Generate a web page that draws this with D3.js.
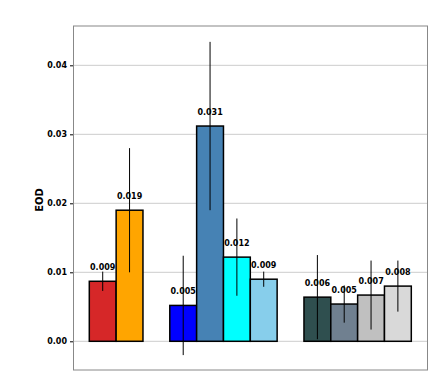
<!DOCTYPE html>
<html>
<head>
<meta charset="utf-8">
<script src="https://cdn.jsdelivr.net/npm/d3@7"></script>
<style>
  body { margin: 0; background: #fff; }
  text { font-family: "DejaVu Sans", sans-serif; font-weight: bold; }
</style>
</head>
<body>
<div id="chart"></div>
<script>
// bar groups (slot index keeps the gap between groups)
const slots = [0, 1, 3, 4, 5, 6, 8, 9, 10, 11];
const values = [0.0087, 0.0190, 0.0052, 0.0312, 0.0122, 0.0090, 0.0064, 0.0054, 0.0067, 0.0080];
const errors = [0.0014, 0.0090, 0.0072, 0.0122, 0.0056, 0.0011, 0.0061, 0.0027, 0.0050, 0.0037];
const labels = ["0.009", "0.019", "0.005", "0.031", "0.012", "0.009", "0.006", "0.005", "0.007", "0.008"];
const colors = ["#d62728", "#ffa500", "#0000ff", "#4682b4", "#00ffff", "#87ceeb", "#2f4f4f", "#708090", "#c0c0c0", "#d9d9d9"];
const yTicks = [0, 0.01, 0.02, 0.03, 0.04];

const width = 446, height = 376;
const plot = { left: 73.5, right: 427.5, top: 26, bottom: 370 };

const svg = d3.select("#chart")
    .append("svg")
    .attr("width", width)
    .attr("height", height);

const y = d3.scaleLinear()
    .domain([-0.00416, 0.0457])
    .range([plot.bottom, plot.top]);

const x = d3.scaleBand()
    .domain(d3.range(12))
    .range([89.3, 411.3])
    .padding(0);

// grid
svg.append("g")
    .selectAll("line")
    .data(yTicks)
    .enter().append("line")
    .attr("x1", plot.left).attr("x2", plot.right)
    .attr("y1", d => y(d)).attr("y2", d => y(d))
    .attr("stroke", "#cccccc")
    .attr("stroke-width", 1);

// bars
svg.append("g")
    .selectAll("rect")
    .data(values)
    .enter().append("rect")
    .attr("x", (d, i) => x(slots[i]))
    .attr("width", x.bandwidth())
    .attr("y", d => y(d))
    .attr("height", d => y(0) - y(d))
    .attr("fill", (d, i) => colors[i])
    .attr("stroke", "#000")
    .attr("stroke-width", 1.5);

// value labels
svg.append("g")
    .selectAll("text")
    .data(values)
    .enter().append("text")
    .attr("x", (d, i) => x(slots[i]) + x.bandwidth() / 2)
    .attr("y", d => y(d) - 11)
    .attr("text-anchor", "middle")
    .attr("font-size", "8px")
    .text((d, i) => labels[i]);

// error bars
svg.append("g")
    .selectAll("line")
    .data(values)
    .enter().append("line")
    .attr("x1", (d, i) => x(slots[i]) + x.bandwidth() / 2)
    .attr("x2", (d, i) => x(slots[i]) + x.bandwidth() / 2)
    .attr("y1", (d, i) => y(d + errors[i]))
    .attr("y2", (d, i) => y(d - errors[i]))
    .attr("stroke", "#000")
    .attr("stroke-width", 1);

// y axis
const yAxis = svg.append("g")
    .attr("transform", `translate(${plot.left},0)`)
    .call(d3.axisLeft(y).tickValues(yTicks).tickFormat(d3.format(".2f")).tickSize(3.5).tickPadding(3));
yAxis.select(".domain").remove();
yAxis.selectAll("text").attr("font-size", "8px").attr("font-family", "DejaVu Sans").attr("font-weight", "bold").attr("fill", "#000");
yAxis.selectAll("line").attr("stroke", "#000");

// frame
svg.append("rect")
    .attr("x", plot.left).attr("y", plot.top)
    .attr("width", plot.right - plot.left)
    .attr("height", plot.bottom - plot.top)
    .attr("fill", "none")
    .attr("stroke", "#888")
    .attr("stroke-width", 1);

// y label
svg.append("text")
    .attr("transform", `translate(43,200) rotate(-90)`)
    .attr("text-anchor", "middle")
    .attr("font-size", "10px")
    .text("EOD");
</script>
</body>
</html>
